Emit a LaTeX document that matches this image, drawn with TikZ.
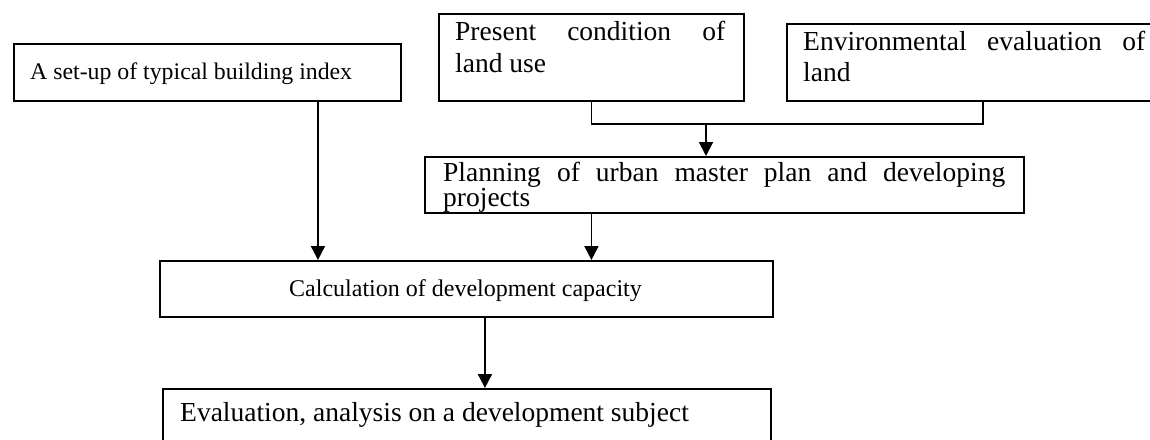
\documentclass[tikz,border=0pt]{standalone}
\usepackage{fontspec}
\setmainfont{Liberation Serif}
\usetikzlibrary{arrows.meta}
\begin{document}
\begin{tikzpicture}[x=1pt,y=1pt,
  box/.style={draw=black, line width=1.9pt, rectangle, inner sep=0pt, anchor=north west},
  boxtext/.style={inner sep=0pt, anchor=base west, text=black},
  bigfont/.style={font=\fontsize{27.5}{31.5}\selectfont},
  smallfont/.style={font=\fontsize{23.8}{28}\selectfont},
  wire/.style={line width=1.9pt},
  arr/.style={line width=1.9pt, -{Triangle[length=14pt,width=14pt]}}
]
% page frame
\clip (0,0) rectangle (1150,-439);
\fill[white] (0,0) rectangle (1150,-439);

% boxes
\node[box, minimum width=387pt, minimum height=57pt] (a) at (13,-43) {};
\node[box, minimum width=305pt, minimum height=87pt] (present) at (438,-13) {};
\node[box, minimum width=376pt, minimum height=77.3pt] (env) at (786,-22.7) {};
\node[box, minimum width=599pt, minimum height=56pt] (plan) at (424,-156) {};
\node[box, minimum width=613pt, minimum height=56pt] (calc) at (159,-260) {};
\node[box, minimum width=608pt, minimum height=80pt] (eval) at (162,-388) {};

% texts
\node[boxtext, smallfont] (a-t) at (30,-79) {A set-up of typical building index};
\node[boxtext, bigfont, text width=270pt, align=justify] (present-t) at (455,-40.7)
  {Present condition of\linebreak land use};
\node[boxtext, bigfont, text width=342pt, align=justify] (env-t) at (803,-50)
  {Environmental evaluation of\linebreak land};
\node[boxtext, font=\fontsize{27.5}{24.8}\selectfont, text width=562pt, align=justify] (plan-t) at (443,-181.7)
  {Planning of urban master plan and developing\linebreak projects};
\node[inner sep=0pt, anchor=base, font=\fontsize{24}{28}\selectfont] (calc-t) at (465.5,-296)
  {Calculation of development capacity};
\node[boxtext, bigfont] (eval-t) at (180,-421.7) {Evaluation, analysis on a development subject};

% connectors
\coordinate (bar) at (706,-124);
\draw[wire] (present.south) |- (bar) -| ([xshift=8pt]env.south);
\draw[arr] (bar) -- (bar |- plan.north);
\draw[arr] (present.south |- plan.south) -- (present.south |- calc.north);
\coordinate (aout) at ([xshift=110.5pt]a.south);
\draw[arr] (aout) -- (aout |- calc.north);
\coordinate (cout) at ([xshift=18.5pt]calc.south);
\draw[arr] (cout) -- (cout |- eval.north);
\end{tikzpicture}
\end{document}
